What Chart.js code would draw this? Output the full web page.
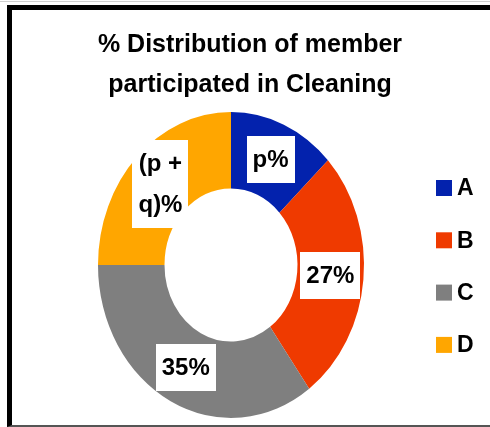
<!DOCTYPE html>
<html>
<head>
<meta charset="utf-8">
<script src="https://cdn.jsdelivr.net/npm/chart.js@4/dist/chart.umd.min.js"></script>
<style>
  html, body { margin: 0; padding: 0; background: #fff; }
  #wrap { position: relative; width: 490px; height: 427px; overflow: hidden; }
  #topline { position: absolute; left: 0; top: 1px; width: 490px; height: 1px; background: #d0d0d0; }
  #frame { position: absolute; left: 7px; top: 5px; width: 500px; height: 415px;
           border-top: 5px solid #000; border-left: 5px solid #000; border-bottom: 2px solid #555; }
  #c { position: absolute; left: 0; top: 0; }
</style>
</head>
<body>
<div id="wrap">
  <div id="topline"></div>
  <div id="frame"></div>
  <canvas id="c" width="490" height="427"></canvas>
</div>
<script>
// === Data ===
const titleLines = ['% Distribution of member', 'participated in Cleaning'];
const categories = ['A', 'B', 'C', 'D'];
const shareValues = [13, 27, 35, 25];
const sliceLabels = [['p%'], ['27%'], ['35%'], ['(p +', 'q)%']];
const sliceColors = ['#0322ad', '#ef3a00', '#7f7f7f', '#ffa600'];

// the reference ring is a bit taller than wide
const Y_STRETCH = 1.15;
const FONT = '"Liberation Sans", Arial, sans-serif';

const el = id => document.getElementById(id);

// squash/stretch the arcs only, text stays normal
const ellipsePlugin = {
    id: 'ellipse',
    beforeDatasetsDraw(chart) {
        const { ctx, chartArea: a } = chart;
        const cx = (a.left + a.right) / 2, cy = (a.top + a.bottom) / 2;
        ctx.save();
        ctx.translate(cx, cy);
        ctx.scale(1, Y_STRETCH);
        ctx.translate(-cx, -cy);
    },
    afterDatasetsDraw(chart) {
        chart.ctx.restore();
    }
};

// title, boxed value labels and legend
const textPlugin = {
    id: 'texts',
    afterDraw(chart) {
        const { ctx, chartArea: a } = chart;
        const cy = (a.top + a.bottom) / 2;
        ctx.save();
        ctx.fillStyle = '#000';
        ctx.textAlign = 'center';
        ctx.textBaseline = 'middle';
        ctx.font = 'bold 25px ' + FONT;
        titleLines.forEach((t, i) => ctx.fillText(t, 250, 45 + i * 40));

        // value labels on white boxes
        ctx.font = 'bold 24px ' + FONT;
        const lineH = 41;
        chart.getDatasetMeta(0).data.forEach((arc, i) => {
            const p = arc.tooltipPosition();
            const x = p.x, y = cy + (p.y - cy) * Y_STRETCH;
            const lines = sliceLabels[i];
            const w = Math.max(...lines.map(l => ctx.measureText(l).width)) + 12;
            const h = lines.length * lineH + 6;
            ctx.fillStyle = '#fff';
            ctx.fillRect(Math.round(x - w / 2), Math.round(y - h / 2), Math.round(w), h);
            ctx.fillStyle = '#000';
            lines.forEach((l, j) => ctx.fillText(l, x, y - h / 2 + 3 + lineH / 2 + j * lineH + 1));
        });

        // legend
        ctx.font = 'bold 23px ' + FONT;
        ctx.textAlign = 'left';
        categories.forEach((c, i) => {
            const ly = 188 + i * 52.3;
            ctx.fillStyle = sliceColors[i];
            ctx.fillRect(436, ly - 8, 16, 16);
            ctx.fillStyle = '#000';
            ctx.fillText(c, 457, ly + 1);
        });
        ctx.restore();
    }
};

const chart = new Chart(el('c').getContext('2d'), {
    type: 'doughnut',
    data: {
        labels: categories,
        datasets: [{ data: shareValues, backgroundColor: sliceColors, borderWidth: 0 }]
    },
    options: {
        responsive: false,
        animation: false,
        cutout: '50%',
        layout: { padding: { left: 98, right: 126, top: 132, bottom: 29 } },
        plugins: { legend: { display: false }, tooltip: { enabled: false }, title: { display: false } }
    },
    plugins: [ellipsePlugin, textPlugin]
});
</script>
</body>
</html>
